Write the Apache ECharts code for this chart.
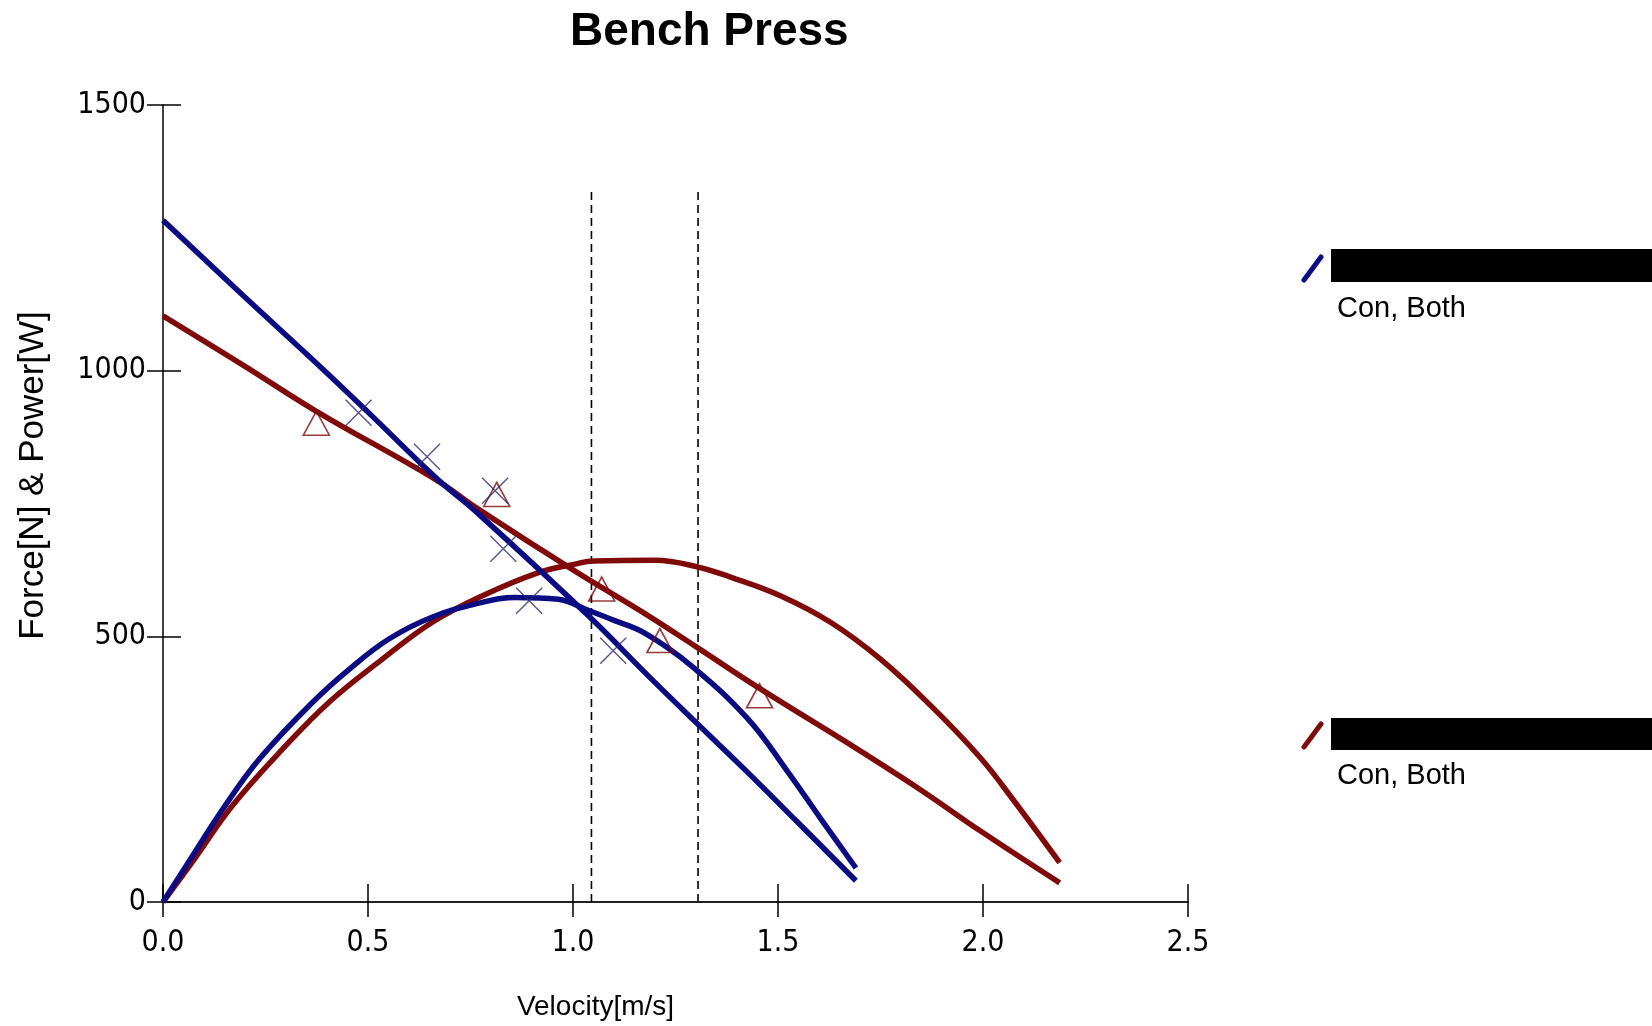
<!DOCTYPE html>
<html>
<head>
<meta charset="utf-8">
<script src="https://cdn.jsdelivr.net/npm/echarts@6/dist/echarts.min.js"></script>
<style>
html,body{margin:0;padding:0;background:#fff;}
#chart{width:1652px;height:1026px;}
</style>
</head>
<body>
<div id="chart"></div>
<script>
// ---- data ----
var xTickLabels = ['0.0', '0.5', '1.0', '1.5', '2.0', '2.5'];
var yTickLabels = ['0', '500', '1000', '1500'];

var blueForce = [[0,1283],[0.2,1138],[0.373,1015],[0.5,922],[0.665,799],[0.77,730],[1.037,539],[1.183,426],[1.297,340],[1.426,244],[1.548,150],[1.69,40]];
var bluePower = [[0,0],[0.073,88],[0.146,175],[0.235,269],[0.365,376],[0.454,438],[0.551,495],[0.656,536],[0.778,564],[0.859,573],[0.964,570],[1.037,549],[1.1,530],[1.175,506],[1.288,445],[1.426,345],[1.523,246],[1.604,157],[1.69,64]];
var redForce = [[0,1103],[0.2,1008],[0.373,924],[0.665,795],[0.77,739],[1.0,625],[1.183,539],[1.297,482],[1.455,402],[1.685,292],[1.85,210],[1.993,134],[2.187,36]];
var redPower = [[0,0],[0.073,77],[0.17,182],[0.292,288],[0.405,376],[0.535,457],[0.656,526],[0.778,576],[0.916,620],[1.005,636],[1.05,642],[1.2,643],[1.297,632],[1.386,611],[1.507,576],[1.629,526],[1.75,457],[1.872,370],[1.993,272],[2.074,192],[2.187,74]];
var blueMarkers = [[0.477,921],[0.644,838],[0.81,774],[0.83,665],[0.893,567],[1.098,473]];
var redMarkers = [[0.374,901],[0.814,767],[1.07,589],[1.212,492],[1.455,388]];
var dashedX = [1.045, 1.305];
var dashedTop = 1345;
var legendLabels = ['Con, Both', 'Con, Both'];

var BLUE = '#0c0c82';
var RED = '#800a0a';
var tickFont = "'Liberation Sans Narrow', 'DejaVu Sans Condensed', sans-serif";
var textFont = "'Liberation Sans', Arial, sans-serif";

var chart = echarts.init(document.getElementById('chart'), null, {renderer: 'canvas'});

function lineSeries(data, color) {
  return {type: 'line', data: data, showSymbol: false, smooth: 0.4, silent: true,
    lineStyle: {color: color, width: 5.5}, xAxisIndex: 0, yAxisIndex: 0, z: 3};
}
function dashSeries(x) {
  return {type: 'line', data: [[x, 0], [x, dashedTop]], showSymbol: false, silent: true,
    lineStyle: {color: '#000', width: 1.6, type: [8, 5]}, z: 2};
}

var xBase = {type: 'value', min: 0, max: 2.5, interval: 0.5, position: 'bottom', splitLine: {show: false}};
var yBase = {type: 'value', min: 0, max: 1500, interval: 500, position: 'left', splitLine: {show: false}};

chart.setOption({
  animation: false,
  backgroundColor: '#fff',
  title: {
    text: 'Bench Press', left: 565, top: 4,
    textStyle: {fontFamily: textFont, fontWeight: 'bold', fontSize: 46, color: '#000'}
  },
  grid: {left: 163, right: 464, top: 105, bottom: 123, containLabel: false},
  xAxis: [
    Object.assign({}, xBase, {
      name: 'Velocity[m/s]', nameLocation: 'middle', nameGap: 91,
      nameTextStyle: {fontFamily: textFont, fontSize: 28, color: '#000', padding: [0, 160, 0, 0]},
      axisLine: {lineStyle: {color: '#222', width: 2}},
      axisTick: {inside: false, length: 15, lineStyle: {color: '#000', width: 1.5}},
      axisLabel: {margin: 26, fontFamily: tickFont, fontSize: 30, color: '#000',
        formatter: function (v) { return xTickLabels[Math.round(v / 0.5)]; }}
    }),
    Object.assign({}, xBase, {
      axisLine: {show: false},
      axisTick: {inside: true, length: 18, lineStyle: {color: '#000', width: 1.5}},
      axisLabel: {show: false}
    })
  ],
  yAxis: [
    Object.assign({}, yBase, {
      name: 'Force[N] & Power[W]', nameLocation: 'middle', nameGap: 112, nameRotate: 90,
      nameTextStyle: {fontFamily: textFont, fontSize: 35, color: '#000', padding: [0, 0, 0, 56]},
      axisLine: {lineStyle: {color: '#000', width: 1.5}},
      axisTick: {inside: false, length: 16, lineStyle: {color: '#000', width: 1.5}},
      axisLabel: {margin: 17, fontFamily: tickFont, fontSize: 30, color: '#000',
        formatter: function (v) { return yTickLabels[Math.round(v / 500)]; }}
    }),
    Object.assign({}, yBase, {
      axisLine: {show: false},
      axisTick: {inside: true, length: 18, lineStyle: {color: '#000', width: 1.5}},
      axisLabel: {show: false}
    })
  ],
  series: [
    dashSeries(dashedX[0]),
    dashSeries(dashedX[1]),
    lineSeries(redForce, RED),
    lineSeries(redPower, RED),
    lineSeries(blueForce, BLUE),
    lineSeries(bluePower, BLUE),
    {type: 'scatter', data: redMarkers, symbol: 'triangle', symbolSize: [26, 24], silent: true, z: 4,
      itemStyle: {color: 'rgba(0,0,0,0)', borderColor: RED, borderWidth: 1.6}},
    {type: 'scatter', data: blueMarkers, symbol: 'path://M0,0L10,10M10,0L0,10', symbolSize: 26, silent: true, z: 4,
      itemStyle: {color: 'none', borderColor: '#2a2a70', borderWidth: 1.4}}
  ],
  graphic: [
    {type: 'line', shape: {x1: 1304, y1: 280, x2: 1321, y2: 257}, style: {stroke: BLUE, lineWidth: 5, lineCap: 'round'}},
    {type: 'rect', shape: {x: 1331, y: 249, width: 321, height: 33}, style: {fill: '#000'}},
    {type: 'text', x: 1337, y: 309, style: {text: legendLabels[0], font: '29px ' + textFont, fill: '#000', textVerticalAlign: 'middle'}},
    {type: 'line', shape: {x1: 1304, y1: 747, x2: 1321, y2: 724}, style: {stroke: RED, lineWidth: 5, lineCap: 'round'}},
    {type: 'rect', shape: {x: 1331, y: 718, width: 321, height: 32}, style: {fill: '#000'}},
    {type: 'text', x: 1337, y: 776, style: {text: legendLabels[1], font: '29px ' + textFont, fill: '#000', textVerticalAlign: 'middle'}}
  ]
});
</script>
</body>
</html>
